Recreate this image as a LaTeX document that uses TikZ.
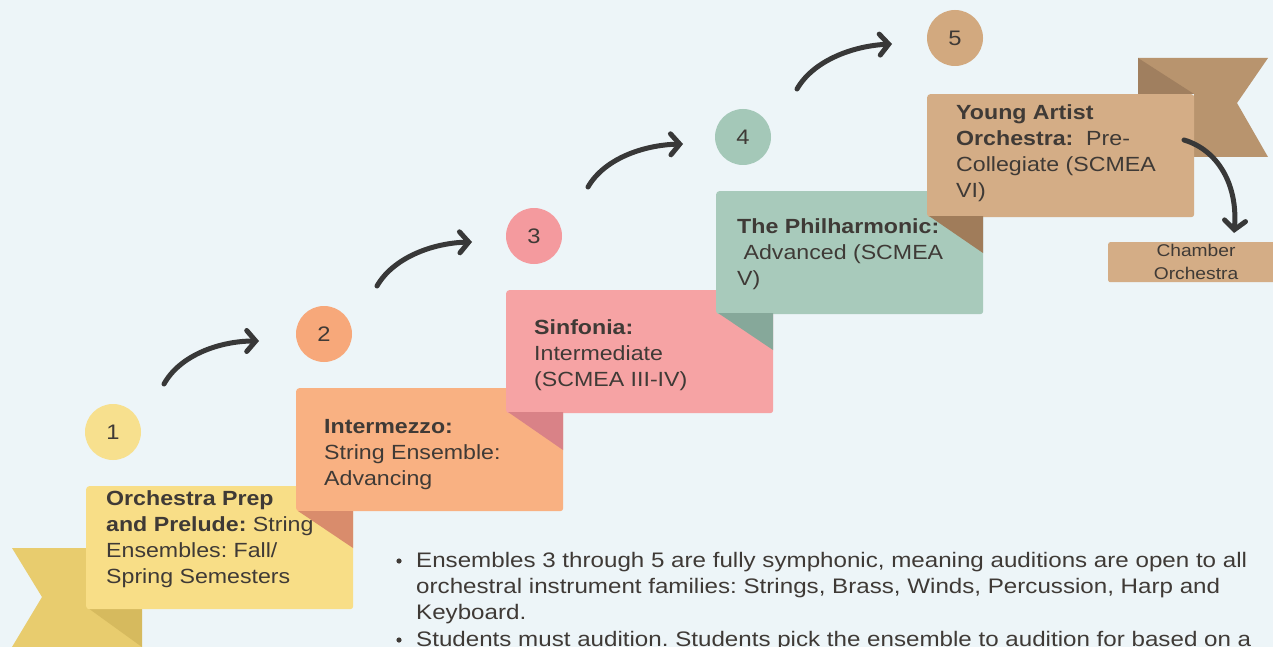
\documentclass[tikz,border=0pt]{standalone}
\usepackage{fontspec}
\setmainfont[FakeStretch=1.13]{Liberation Sans}
\newfontfamily\bulletfont[FakeStretch=1.15]{Liberation Sans}
\usetikzlibrary{arrows.meta}
\frenchspacing
\definecolor{bg}{RGB}{237,245,248}
\definecolor{txt}{RGB}{63,58,54}
\definecolor{arr}{RGB}{56,56,56}
\definecolor{yBox}{RGB}{248,222,135}
\definecolor{yCirc}{RGB}{247,224,142}
\definecolor{yRib}{RGB}{232,204,110}
\definecolor{yFold}{RGB}{214,186,94}
\definecolor{oBox}{RGB}{249,177,130}
\definecolor{oCirc}{RGB}{247,168,122}
\definecolor{oFold}{RGB}{217,140,108}
\definecolor{pBox}{RGB}{246,163,164}
\definecolor{pCirc}{RGB}{244,154,158}
\definecolor{pFold}{RGB}{217,130,135}
\definecolor{gBox}{RGB}{168,202,187}
\definecolor{gCirc}{RGB}{164,200,184}
\definecolor{gFold}{RGB}{134,168,154}
\definecolor{tBox}{RGB}{212,173,134}
\definecolor{tCirc}{RGB}{210,169,127}
\definecolor{tFold}{RGB}{160,124,90}
\definecolor{tRib}{RGB}{184,148,110}
\definecolor{tRibD}{RGB}{160,127,95}
\tikzset{
  boxshape/.style={draw=none, rounded corners=3pt, minimum width=267pt, minimum height=123pt, anchor=north west, inner sep=0pt},
  boxtext/.style={anchor=north west, align=left, text=txt, inner sep=0pt, font=\fontsize{20.5}{26}\selectfont},
  numcirc/.style={circle, minimum size=56pt, inner sep=0pt, text=txt, font=\fontsize{21}{22}\selectfont},
  stepArrow/.style={draw=arr, line width=5pt, line cap=round, -{Straight Barb[length=9pt,width=21pt,line cap=round]}},
  bullettext/.style={anchor=base west, inner sep=0pt, text=txt, font=\bulletfont\fontsize{21}{26}\selectfont},
}
\begin{document}
\begin{tikzpicture}[x=1pt,y=-1pt]
\useasboundingbox (0,0) rectangle (1273,647);
\clip (0,0) rectangle (1273,647);
\fill[bg] (0,0) rectangle (1273,647);

% ribbon left (box 1)
\fill[yRib] (12,548) -- (140,548) -- (142,647) -- (12,647) -- (42,597) -- cycle;
\fill[yFold] (88,608) -- (142,608) -- (142,647) -- cycle;
% ribbon right (box 5)
\fill[tRib] (1138,58) -- (1268,58) -- (1237,103) -- (1268,157) -- (1194,157) -- (1194,94) -- (1138,94) -- cycle;
\fill[tRibD] (1138,58) -- (1194,94) -- (1138,94) -- cycle;

% boxes
\node[boxshape, fill=yBox] (b1) at (86,486) {};
\node[boxshape, fill=oBox] (b2) at (296,388) {};
\node[boxshape, fill=pBox] (b3) at (506,290) {};
\node[boxshape, fill=gBox] (b4) at (716,191) {};
\node[boxshape, fill=tBox] (b5) at (927,94) {};

% folds
\fill[oFold] (298,511) -- (353,511) -- (353,548) -- cycle;
\fill[pFold] (508,412) -- (563,412) -- (563,450) -- cycle;
\fill[gFold] (718,313) -- (773,313) -- (773,350) -- cycle;
\fill[tFold] (929,216) -- (983,216) -- (983,253) -- cycle;

% box texts
\node[boxtext] (t1) at (106,490) {\textbf{Orchestra Prep}\\\textbf{and Prelude:} String\\Ensembles: Fall/\\Spring Semesters};
\node[boxtext] (t2) at (324,419) {\textbf{Intermezzo:}\\String Ensemble:\\Advancing};
\node[boxtext] (t3) at (534,319) {\textbf{Sinfonia:}\\Intermediate\\(SCMEA III-IV)};
\node[boxtext] (t4) at (737,218) {\textbf{The Philharmonic:}\\\ Advanced (SCMEA\\V)};
\node[boxtext] (t5) at (956,104) {\textbf{Young Artist}\\\textbf{Orchestra:}\ \ Pre-\\Collegiate (SCMEA\\VI)};

% circles
\node[numcirc, fill=yCirc] (c1) at (113,432) {1};
\node[numcirc, fill=oCirc] (c2) at (324,334) {2};
\node[numcirc, fill=pCirc] (c3) at (534,236) {3};
\node[numcirc, fill=gCirc] (c4) at (743,137) {4};
\node[numcirc, fill=tCirc] (c5) at (955,38) {5};

% chamber orchestra
\node[draw=none, fill=tBox, rounded corners=2pt, minimum width=175pt, minimum height=40pt, anchor=north west, inner sep=0pt] (ch) at (1108,242) {};
\node[align=center, text=txt, inner sep=0pt, font=\fontsize{17}{23}\selectfont] (cht) at (1196,262) {Chamber\\Orchestra};

% arrows
\coordinate (a1s) at (164,384); \coordinate (a1e) at (259,341);
\coordinate (a2s) at (377,286); \coordinate (a2e) at (472,242);
\coordinate (a3s) at (588,187); \coordinate (a3e) at (683,144);
\coordinate (a4s) at (797,89);  \coordinate (a4e) at (892,44);
\draw[stepArrow] (a1s) .. controls (180,355) and (220,341) .. (a1e);
\draw[stepArrow] (a2s) .. controls (393,258) and (432,243) .. (a2e);
\draw[stepArrow] (a3s) .. controls (604,159) and (643,145) .. (a3e);
\draw[stepArrow] (a4s) .. controls (813,61) and (852,46) .. (a4e);
\coordinate (a5s) at (1184,140); \coordinate (a5e) at (1234,233);
\draw[stepArrow] (a5s) .. controls (1218,150) and (1238,185) .. (a5e);

% bullets
\node[bullettext] (l1) at (416,567) {Ensembles 3 through 5 are fully symphonic, meaning auditions are open to all};
\node[bullettext] (l2) at (416,593) {orchestral instrument families: Strings, Brass, Winds, Percussion, Harp and};
\node[bullettext] (l3) at (416,619) {Keyboard.};
\node[bullettext] (l4) at (416,646) {Students must audition. Students pick the ensemble to audition for based on a};
\fill[txt] (399,561) circle (2.6pt);
\fill[txt] (399,640) circle (2.6pt);
\end{tikzpicture}
\end{document}
